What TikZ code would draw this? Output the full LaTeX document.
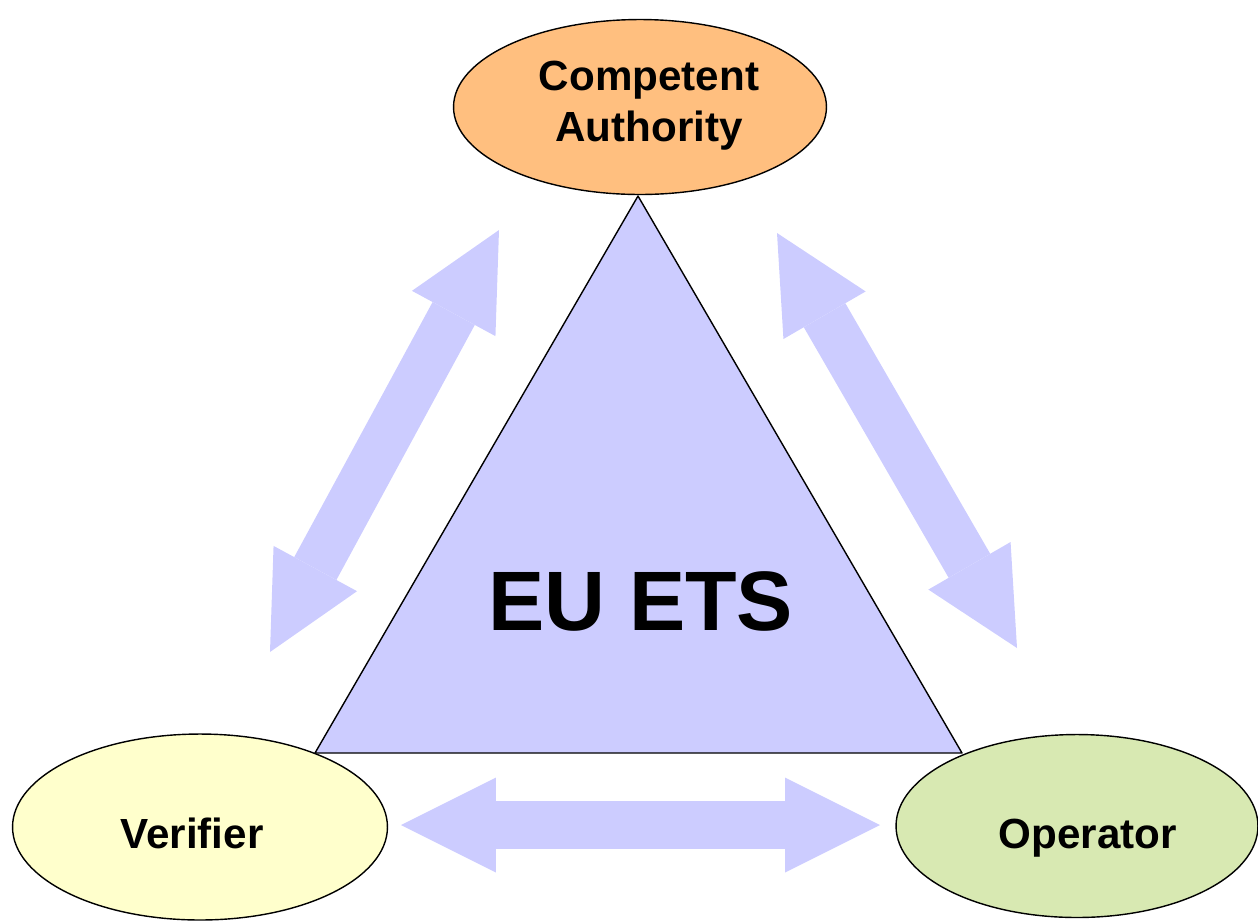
\documentclass[tikz,border=0pt]{standalone}
\usepackage{fontspec}
\setmainfont{Liberation Sans}
\usetikzlibrary{shapes.geometric,arrows.meta}
\definecolor{etsblue}{HTML}{CCCCFF}
\definecolor{caorange}{HTML}{FFBF7F}
\definecolor{veryellow}{HTML}{FFFFCC}
\definecolor{opgreen}{HTML}{D8E9B2}
\tikzset{party/.style={ellipse,draw,line width=0.8pt,inner sep=0pt},
 partytext/.style={align=center,inner sep=0pt,font=\fontsize{24}{29}\selectfont\bfseries},
 dblarrow/.style={etsblue,line width=0.96cm,
   {Triangle[width=1.9cm,length=1.9cm,line width=0pt]}-{Triangle[width=1.9cm,length=1.9cm,line width=0pt]}}}
\begin{document}
\begin{tikzpicture}[x=0.02cm,y=-0.02cm,line join=round]
 \useasboundingbox (0,0) rectangle (1258,921);
 \coordinate (l1) at (270,652); \coordinate (l2) at (499,230);
 \coordinate (r1) at (777,233); \coordinate (r2) at (1017,648);
 \coordinate (b1) at (401,825); \coordinate (b2) at (880,825);
 \draw[dblarrow] (l1)--(l2);
 \draw[dblarrow] (r1)--(r2);
 \draw[dblarrow] (b1)--(b2);
 \draw[fill=etsblue,line width=0.8pt] (638,196) coordinate (apex)--(315,753) coordinate (bl)--(962,753) coordinate (br)--cycle;
 \node[font=\fontsize{48}{58}\selectfont\bfseries] (ets) at (641,601) {EU ETS};
 \node[party,fill=caorange,minimum width=7.46cm,minimum height=3.5cm] (ca) at (640,107) {};
 \node[party,fill=veryellow,minimum width=7.5cm,minimum height=3.72cm] (ver) at (200,827) {};
 \node[party,fill=opgreen,minimum width=7.24cm,minimum height=3.66cm] (op) at (1077,826) {};
 \node[partytext] (catext) at (649,106) {Competent\\Authority};
 \node[partytext,anchor=base] (vertext) at (192,848) {Verifier};
 \node[partytext,anchor=base] (optext) at (1088,848) {Operator};
\end{tikzpicture}
\end{document}
